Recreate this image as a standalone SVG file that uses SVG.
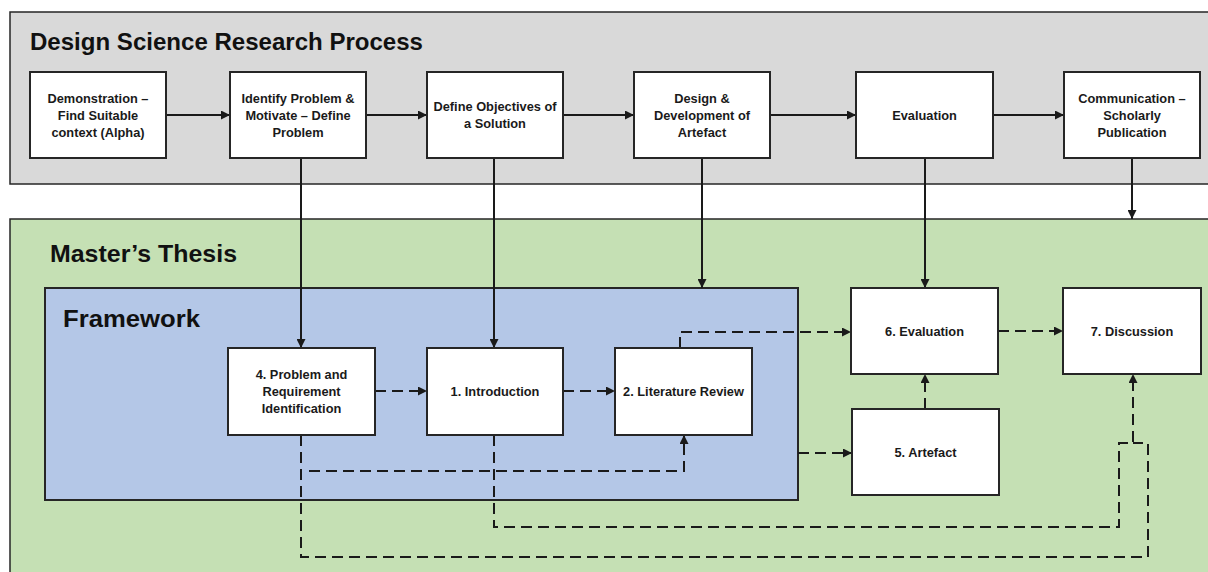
<svg xmlns="http://www.w3.org/2000/svg" width="1208" height="572" viewBox="0 0 1208 572">
<defs>
<style>
.panel{stroke:#262626;stroke-width:1.5}
.box{fill:#fff;stroke:#262626;stroke-width:2}
.t{font-family:"Liberation Sans",Arial,sans-serif;font-weight:bold;font-size:12.8px;text-anchor:middle;fill:#1a1a1a}
.title{font-family:"Liberation Sans",Arial,sans-serif;font-weight:bold;fill:#111}
.c{fill:none;stroke:#1a1a1a;stroke-width:2}
.d{fill:none;stroke:#1a1a1a;stroke-width:2;stroke-dasharray:11 6}
</style>
<marker id="ah" viewBox="0 0 10 10" refX="10" refY="5" markerWidth="9" markerHeight="9" markerUnits="userSpaceOnUse" orient="auto">
<path d="M0,0 L10,5 L0,10 z" fill="#1a1a1a"/>
</marker>
</defs>
<rect width="1208" height="572" fill="#fff"/>

<g id="dsrp-panel">
<rect class="panel" x="10" y="12" width="1220" height="172" fill="#d9d9d9"/>
<text class="title" x="30" y="50" font-size="24" textLength="393" lengthAdjust="spacingAndGlyphs">Design Science Research Process</text>
</g>
<g id="thesis-panel">
<rect class="panel" x="10" y="219" width="1220" height="380" fill="#c5e0b4"/>
<text class="title" x="50" y="262" font-size="24" textLength="187" lengthAdjust="spacingAndGlyphs">Master’s Thesis</text>
</g>
<g id="framework-panel">
<rect x="45" y="288" width="753" height="212" fill="#b4c7e7" stroke="#262626" stroke-width="2"/>
<text class="title" x="63" y="327" font-size="24" textLength="137" lengthAdjust="spacingAndGlyphs">Framework</text>
</g>

<g id="connectors">
<path class="c" d="M166,115 H230" marker-end="url(#ah)"/>
<path class="c" d="M366,115 H427" marker-end="url(#ah)"/>
<path class="c" d="M563,115 H634" marker-end="url(#ah)"/>
<path class="c" d="M770,115 H856" marker-end="url(#ah)"/>
<path class="c" d="M993,115 H1064" marker-end="url(#ah)"/>
<path class="c" d="M301,158 V348" marker-end="url(#ah)"/>
<path class="c" d="M494,158 V348" marker-end="url(#ah)"/>
<path class="c" d="M702,158 V288" marker-end="url(#ah)"/>
<path class="c" d="M925,158 V288" marker-end="url(#ah)"/>
<path class="c" d="M1132,158 V219" marker-end="url(#ah)"/>
<path class="d" d="M375,391 H427" marker-end="url(#ah)"/>
<path class="d" d="M563,391 H615" marker-end="url(#ah)"/>
<path class="d" d="M680,348 V332 H851" marker-end="url(#ah)"/>
<path class="d" d="M998,331 H1063" marker-end="url(#ah)"/>
<path class="d" d="M925,409 V374" marker-end="url(#ah)"/>
<path class="d" d="M798,453 H852" marker-end="url(#ah)"/>
<path class="d" d="M301,435 V557 H1148 V443 H1133"/>
<path class="d" d="M309,471 H684 V435" marker-end="url(#ah)"/>
<path class="d" d="M494,435 V527 H1119 V443 H1133 V374" marker-end="url(#ah)"/>
</g>

<g id="n-demonstration">
<rect class="box" x="30" y="72" width="136" height="86"/>
<text class="t" x="98" y="102.5">Demonstration –</text>
<text class="t" x="98" y="119.5">Find Suitable</text>
<text class="t" x="98" y="136.5">context (Alpha)</text>
</g>
<g id="n-identify">
<rect class="box" x="230" y="72" width="136" height="86"/>
<text class="t" x="298" y="102.5">Identify Problem &amp;</text>
<text class="t" x="298" y="119.5">Motivate – Define</text>
<text class="t" x="298" y="136.5">Problem</text>
</g>
<g id="n-objectives">
<rect class="box" x="427" y="72" width="136" height="86"/>
<text class="t" x="495" y="111">Define Objectives of</text>
<text class="t" x="495" y="128">a Solution</text>
</g>
<g id="n-design">
<rect class="box" x="634" y="72" width="136" height="86"/>
<text class="t" x="702" y="102.5">Design &amp;</text>
<text class="t" x="702" y="119.5">Development of</text>
<text class="t" x="702" y="136.5">Artefact</text>
</g>
<g id="n-evaluation-top">
<rect class="box" x="856" y="72" width="137" height="86"/>
<text class="t" x="924.5" y="119.5">Evaluation</text>
</g>
<g id="n-communication">
<rect class="box" x="1064" y="72" width="136" height="86"/>
<text class="t" x="1132" y="102.5">Communication –</text>
<text class="t" x="1132" y="119.5">Scholarly</text>
<text class="t" x="1132" y="136.5">Publication</text>
</g>

<g id="n-problem">
<rect class="box" x="228" y="348" width="147" height="87"/>
<text class="t" x="301.5" y="379">4. Problem and</text>
<text class="t" x="301.5" y="396">Requirement</text>
<text class="t" x="301.5" y="413">Identification</text>
</g>
<g id="n-introduction">
<rect class="box" x="427" y="348" width="136" height="87"/>
<text class="t" x="495" y="396">1. Introduction</text>
</g>
<g id="n-literature">
<rect class="box" x="615" y="348" width="137" height="87"/>
<text class="t" x="683.5" y="396">2. Literature Review</text>
</g>
<g id="n-evaluation">
<rect class="box" x="851" y="288" width="147" height="86"/>
<text class="t" x="924.5" y="335.5">6. Evaluation</text>
</g>
<g id="n-discussion">
<rect class="box" x="1063" y="288" width="138" height="86"/>
<text class="t" x="1132" y="335.5">7. Discussion</text>
</g>
<g id="n-artefact">
<rect class="box" x="852" y="409" width="147" height="86"/>
<text class="t" x="925.5" y="456.5">5. Artefact</text>
</g>
</svg>
